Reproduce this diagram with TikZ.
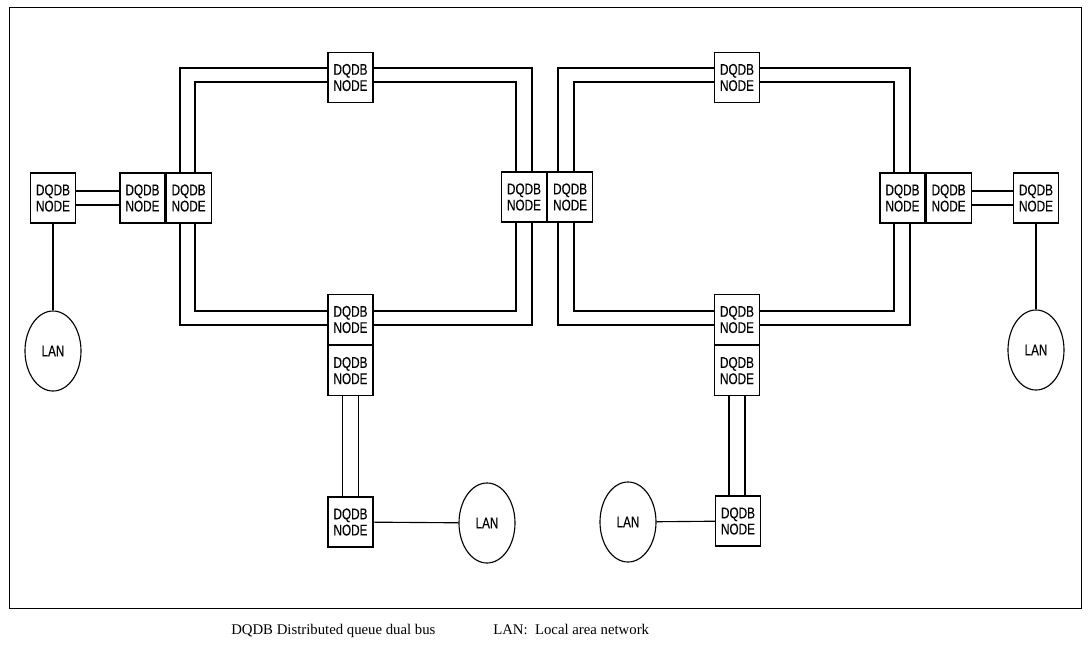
\documentclass[tikz,border=0pt]{standalone}
\usepackage{fontspec}
\setmainfont{Liberation Serif}
\newfontfamily\dqdbfont[FakeStretch=0.76,FakeBold=0.2]{Liberation Sans}
\usetikzlibrary{shapes.geometric,positioning}

\begin{document}
\begin{tikzpicture}[
    x=0.025cm, y=-0.025cm,
    line width=0.8pt,
    dqdb/.style={rectangle,draw,fill=white,minimum width=1.125cm,minimum height=1.25cm,
      inner sep=0pt,align=center,font=\dqdbfont\fontsize{11}{11.5}\selectfont},
    lan/.style={ellipse,draw,fill=white,minimum width=1.4cm,minimum height=2cm,
      inner sep=0pt,font=\dqdbfont\fontsize{11}{11.5}\selectfont},
    bus/.style={draw,line width=0.8pt},
    caption/.style={anchor=base west,font=\fontsize{10.5}{12}\selectfont}
  ]
    \useasboundingbox (0,0) rectangle (1088,645);

    % Frame
    \draw[line width=0.7pt] (9,7) rectangle (1081,608);

    % Dual bus rings
    \draw[bus] (180,68) rectangle (532,325);
    \draw[bus] (195,82) rectangle (516,311);
    \draw[bus] (558,68) rectangle (910,325);
    \draw[bus] (574,82) rectangle (894,311);

    % Left ring nodes
    \node[dqdb] (LT) at (350.5,77.5) {DQDB\\NODE};
    \node[dqdb] (LL1) at (142.5,198) {DQDB\\NODE};
    \node[dqdb,right=0pt of LL1] (LL2) {DQDB\\NODE};
    \node[dqdb] (LR) at (524,197) {DQDB\\NODE};
    \node[dqdb] (LB1) at (350.5,319.5) {DQDB\\NODE};
    \node[dqdb,below=0pt of LB1] (LB2) {DQDB\\NODE};
    \node[dqdb] (LD) at (350.5,522) {DQDB\\NODE};
    \node[dqdb] (LS) at (53,198) {DQDB\\NODE};

    % Right ring nodes
    \node[dqdb,right=0pt of LR] (RL) {DQDB\\NODE};
    \node[dqdb] (RT) at (737,77.5) {DQDB\\NODE};
    \node[dqdb] (RR1) at (902.5,198) {DQDB\\NODE};
    \node[dqdb,right=0pt of RR1] (RR2) {DQDB\\NODE};
    \node[dqdb] (RB1) at (737,319.5) {DQDB\\NODE};
    \node[dqdb,below=0pt of RB1] (RB2) {DQDB\\NODE};
    \node[dqdb] (RD) at (738,521) {DQDB\\NODE};
    \node[dqdb] (RS) at (1036,198) {DQDB\\NODE};

    % LANs
    \node[lan] (LAN1) at (53,351) {LAN};
    \node[lan] (LAN2) at (487,523) {LAN};
    \node[lan] (LAN3) at (1036,350) {LAN};
    \node[lan] (LAN4) at (628,522) {LAN};

    % Access links
    \draw ([yshift=1.75mm]LS.east) -- ([yshift=1.75mm]LL1.west);
    \draw ([yshift=-1.75mm]LS.east) -- ([yshift=-1.75mm]LL1.west);
    \draw ([yshift=1.75mm]RR2.east) -- ([yshift=1.75mm]RS.west);
    \draw ([yshift=-1.75mm]RR2.east) -- ([yshift=-1.75mm]RS.west);
    \draw ([xshift=-2mm]LB2.south) -- ([xshift=-2mm]LD.north);
    \draw ([xshift=2mm]LB2.south) -- ([xshift=2mm]LD.north);
    \draw ([xshift=-2mm]RB2.south) -- ([xshift=-2mm]RD.north -| RB2.south);
    \draw ([xshift=2mm]RB2.south) -- ([xshift=2mm]RD.north -| RB2.south);
    \draw (LS) -- (LAN1);
    \draw (RS) -- (LAN3);
    \draw (LD) -- (LAN2);
    \draw (RD) -- (LAN4);

    % Caption
    \node[caption] (capA) at (226,634) {DQDB Distributed queue dual bus};
    \node[caption] (capB) at (488,634) {LAN:\ \ Local area network};
  \end{tikzpicture}
\end{document}
